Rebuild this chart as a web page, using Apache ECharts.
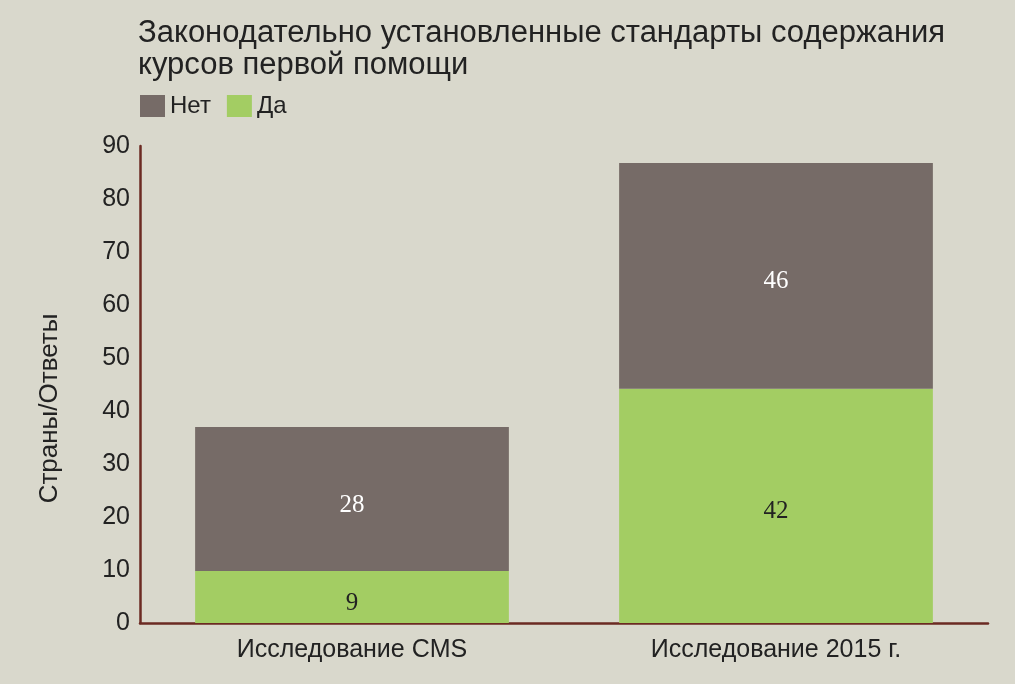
<!DOCTYPE html>
<html>
<head>
<meta charset="utf-8">
<script src="https://cdn.jsdelivr.net/npm/echarts@6/dist/echarts.min.js"></script>
<style>
  html, body { margin: 0; padding: 0; background: #d9d8cc; }
  #chart { width: 1015px; height: 684px; }
</style>
</head>
<body>
<div id="chart"></div>
<script>
const categories = ['Исследование CMS', 'Исследование 2015 г.']
// heights as drawn in the picture
const yesValues = [9.8, 44.2]
const noValues = [27.2, 42.6]
// numbers printed on the bars
const yesLabels = ['9', '42']
const noLabels = ['28', '46']

function stackedBars() {
  const sans = 'Liberation Sans, Arial, sans-serif'
  const serif = 'Liberation Serif, Times New Roman, serif'
  const option = {
    backgroundColor: '#d9d8cc',
    title: {
      text: 'Законодательно установленные стандарты содержания\nкурсов первой помощи',
      left: 133,
      top: 12,
      textStyle: {
        fontFamily: sans,
        fontSize: 31,
        fontWeight: 'normal',
        lineHeight: 32,
        color: '#222',
      },
    },
    legend: {
      data: ['Нет', 'Да'],
      left: 135,
      top: 89,
      icon: 'rect',
      itemWidth: 25,
      itemHeight: 22,
      itemGap: 16,
      textStyle: { fontFamily: sans, fontSize: 24, color: '#222' },
    },
    grid: {
      left: 140,
      right: 27,
      top: 146,
      bottom: 61,
    },
    xAxis: {
      type: 'category',
      data: categories,
      axisLine: { lineStyle: { color: '#6b2a22', width: 2.5 } },
      axisTick: { show: false },
      axisLabel: { fontFamily: sans, fontSize: 25, color: '#222', margin: 15 },
    },
    yAxis: {
      type: 'value',
      min: 0,
      max: 90,
      interval: 10,
      name: 'Страны/Ответы',
      nameLocation: 'middle',
      nameGap: 77,
      nameTextStyle: {
        fontFamily: sans,
        fontSize: 26,
        color: '#222',
        padding: [0, 48, 0, 0],
      },
      axisLine: { show: true, lineStyle: { color: '#6b2a22', width: 2.5 } },
      axisTick: { show: false },
      splitLine: { show: false },
      axisLabel: { fontFamily: sans, fontSize: 25, color: '#222', margin: 10 },
    },
    series: [
      {
        name: 'Да',
        type: 'bar',
        stack: 'total',
        barWidth: '74%',
        data: yesValues,
        itemStyle: { color: '#a3cd63' },
        label: {
          show: true,
          position: 'inside',
          offset: [0, 6],
          fontFamily: serif,
          fontSize: 25,
          color: '#222',
          formatter: (p) => yesLabels[p.dataIndex],
        },
      },
      {
        name: 'Нет',
        type: 'bar',
        stack: 'total',
        data: noValues,
        itemStyle: { color: '#766b67' },
        label: {
          show: true,
          position: 'inside',
          offset: [0, 6],
          fontFamily: serif,
          fontSize: 25,
          color: '#fff',
          formatter: (p) => noLabels[p.dataIndex],
        },
      },
    ],
  }

  var myChart = echarts.init(document.getElementById('chart'))
  myChart.setOption(option)
}

stackedBars()
</script>
</body>
</html>
